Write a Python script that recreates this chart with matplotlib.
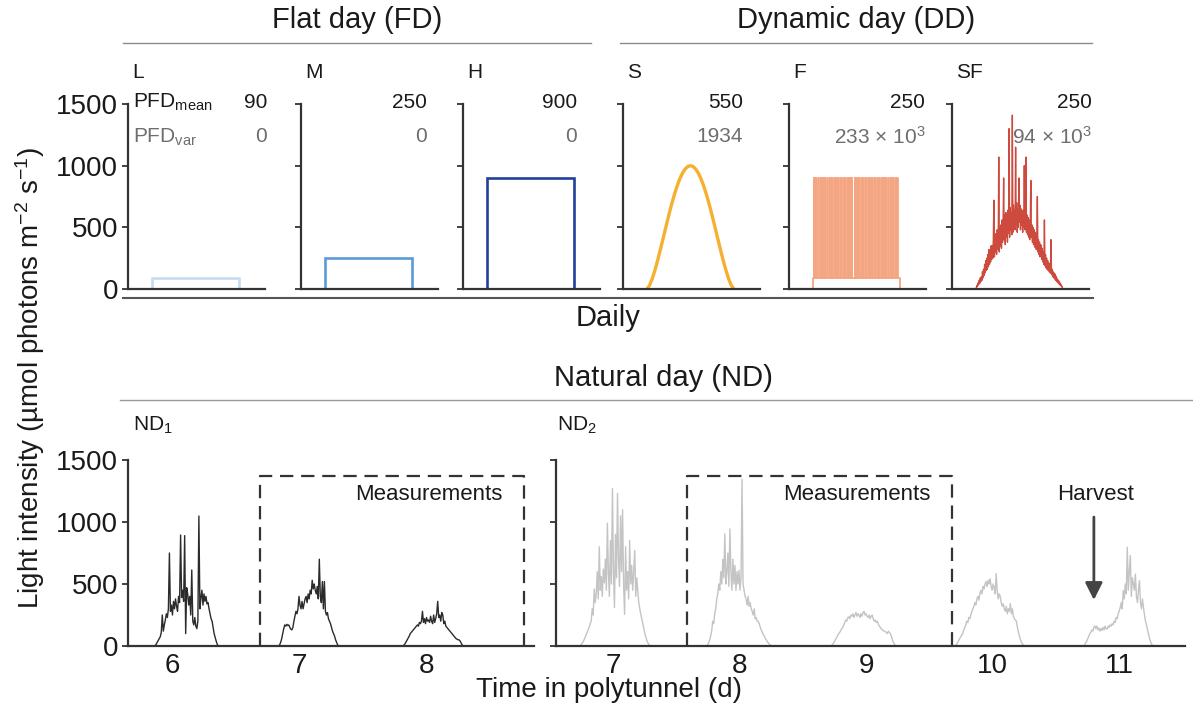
import numpy as np
import matplotlib
matplotlib.use("Agg")
import matplotlib.pyplot as plt

plt.rcParams['font.family'] = ['Liberation Sans', 'DejaVu Sans']
plt.rcParams['mathtext.fontset'] = 'custom'
plt.rcParams['mathtext.rm'] = 'Liberation Sans'
plt.rcParams['mathtext.it'] = 'Liberation Sans:italic'
plt.rcParams['mathtext.bf'] = 'Liberation Sans:bold'

# ---------------- daily treatments (hour of day) ----------------
treatments = ['L', 'M', 'H', 'S', 'F', 'SF']
pfd_mean = ['90', '250', '900', '550', '250', '250']
pfd_var = ['0', '0', '0', '1934', r'233 × 10$^{3}$', r'94 × 10$^{3}$']
light_on, light_off = 4, 20
flat_levels = [90, 250, 900]

# sinusoidal day, sampled every half hour
s_hours = np.arange(4, 20.01, 0.5)
s_values = [0, 31, 86, 156, 237, 324, 414, 505, 595, 680, 758, 828, 888, 936, 971, 993,
            1000, 993, 971, 936, 888, 828, 758, 680, 595, 505, 414, 324, 237, 156, 86, 31, 0]

# fluctuating day: low background with short high-light flashes
f_low, f_high = 90, 900
f_flash_starts = [4.15, 4.55, 4.95, 5.4, 5.8, 6.2, 6.65, 7.05, 7.45, 7.9, 8.3, 8.7, 9.15,
                  9.55, 9.95, 10.4, 10.8, 11.2, 11.65, 12.05, 12.45, 12.9, 13.3, 13.7,
                  14.15, 14.55, 14.95, 15.4, 15.8, 16.2, 16.65, 17.05, 17.45, 17.9, 18.3,
                  18.7, 19.15, 19.55]
f_flash_len = 0.08

# sinusoidal + fluctuating day, every 6 min
sf_hours = np.linspace(4, 20, 161)
sf_values = [0, 15, 30, 20, 50, 35, 70, 45, 90, 60,
             100, 70, 140, 90, 160, 110, 200, 130, 230, 150,
             250, 160, 280, 180, 320, 200, 300, 220, 350, 240,
             350, 250, 400, 720, 260, 420, 300, 450, 280, 480,
             450, 320, 1070, 300, 500, 350, 520, 330, 560, 380,
             540, 900, 400, 600, 360, 620, 420, 580, 380, 640,
             450, 1300, 420, 660, 480, 620, 440, 1410, 460, 680,
             500, 640, 480, 1150, 520, 700, 460, 650, 500, 900,
             540, 680, 480, 650, 520, 620, 460, 640, 500, 1000,
             480, 620, 1070, 460, 600, 440, 580, 420, 560, 400,
             550, 880, 420, 520, 380, 500, 360, 480, 340, 460,
             450, 320, 420, 750, 300, 400, 280, 380, 260, 360,
             350, 240, 330, 220, 300, 200, 560, 190, 280, 170,
             250, 160, 230, 150, 210, 140, 190, 130, 400, 120,
             160, 100, 140, 90, 130, 80, 120, 70, 100, 60,
             80, 50, 70, 40, 55, 30, 40, 20, 25, 10, 0]

# ---------------- natural days in the polytunnel ----------------
nd_step = 0.008  # days between logged values
nd1_starts = [5.86, 6.84, 7.82]
nd1_day6 = [0, 5, 15, 30, 45, 60, 75, 110, 250, 120, 170, 210, 260, 230, 300, 750,
            280, 330, 250, 360, 300, 380, 320, 280, 400, 350, 895, 390, 450, 360, 890,
            100, 470, 420, 330, 400, 250, 613, 200, 170, 230, 160, 140, 200, 1048, 300,
            390, 450, 330, 420, 360, 400, 340, 350, 300, 260, 220, 200, 150, 100, 70,
            40, 15, 0]
nd1_day7 = [0, 10, 30, 60, 100, 140, 170, 160, 175, 165, 170, 150, 135, 130, 150, 200,
            240, 280, 260, 300, 400, 330, 300, 360, 300, 340, 380, 400, 350, 420, 380,
            450, 420, 530, 460, 500, 450, 420, 480, 380, 700, 400, 350, 520, 300, 520,
            280, 250, 270, 220, 200, 180, 150, 120, 100, 80, 50, 30, 10, 0]
nd1_day8 = [0, 10, 20, 35, 50, 65, 80, 100, 110, 120, 130, 140, 150, 160, 170, 160,
            190, 180, 200, 280, 190, 220, 180, 230, 200, 210, 190, 240, 200, 180, 250,
            190, 220, 260, 360, 230, 250, 200, 270, 250, 180, 200, 160, 150, 140, 130,
            120, 110, 100, 90, 80, 70, 60, 55, 50, 50, 40, 25, 10, 0]

nd2_starts = [6.74, 7.74, 8.72, 9.70, 10.72]
nd2_day7 = [0, 10, 20, 35, 50, 70, 90, 110, 130, 150, 180, 200, 300, 250, 460, 350,
            420, 600, 380, 800, 450, 560, 400, 620, 510, 700, 450, 990, 600, 400, 850,
            500, 1270, 600, 310, 900, 550, 1230, 700, 480, 1050, 600, 1100, 500, 255,
            800, 450, 600, 380, 850, 500, 650, 450, 600, 770, 400, 550, 450, 350, 300,
            255, 220, 180, 140, 100, 70, 45, 25, 10, 5, 0]
nd2_day8 = [0, 10, 25, 50, 80, 120, 200, 180, 260, 300, 380, 420, 500, 450, 600, 500,
            700, 550, 904, 500, 600, 750, 480, 944, 600, 450, 700, 500, 650, 450, 600,
            500, 610, 450, 550, 1345, 500, 450, 400, 380, 330, 400, 320, 350, 300, 280,
            250, 300, 220, 230, 200, 200, 180, 150, 130, 110, 90, 80, 60, 50, 35, 25,
            15, 8, 3, 0]
nd2_day9 = [0, 5, 15, 25, 40, 55, 70, 85, 100, 110, 125, 140, 150, 170, 190, 210, 200,
            230, 235, 220, 250, 240, 260, 230, 250, 270, 240, 260, 250, 230, 260, 240,
            270, 280, 250, 260, 240, 230, 250, 220, 240, 250, 220, 200, 210, 190, 200,
            180, 160, 150, 140, 130, 125, 120, 115, 110, 100, 120, 110, 100, 80, 50, 30,
            15, 5, 0]
nd2_day10 = [0, 5, 15, 30, 45, 60, 75, 90, 100, 130, 150, 170, 200, 190, 230, 220, 250,
             280, 300, 320, 350, 330, 380, 400, 370, 430, 450, 420, 480, 460, 500, 520,
             480, 530, 500, 543, 480, 450, 500, 470, 420, 583, 450, 380, 420, 400, 350,
             320, 340, 300, 280, 320, 260, 300, 280, 342, 260, 300, 240, 220, 210, 200,
             150, 110, 80, 50, 30, 15, 8, 3, 0]
nd2_day11 = [0, 10, 25, 40, 60, 80, 100, 110, 130, 120, 150, 162, 140, 160, 130, 145,
             120, 140, 125, 150, 130, 160, 140, 135, 160, 150, 170, 160, 180, 170, 200,
             190, 230, 220, 260, 280, 310, 350, 300, 446, 380, 500, 420, 797, 450, 600,
             730, 400, 550, 500, 450, 580, 400, 350, 450, 527, 350, 300, 380, 310, 250,
             200, 170, 130, 95, 60, 35, 15, 5, 0]

W, H = 1193, 711
fig = plt.figure(figsize=(W / 100, H / 100), dpi=100)


def fx(x):
    return x / W


def fy(y):
    return 1 - y / H


def add_panel(left, right, top, bottom):
    return fig.add_axes([fx(left), fy(bottom), (right - left) / W, (bottom - top) / H])


def style(ax, ylabels):
    for side in ['top', 'right']:
        ax.spines[side].set_visible(False)
    for side in ['left', 'bottom']:
        ax.spines[side].set_linewidth(1.6)
        ax.spines[side].set_color('#333333')
    ax.set_ylim(0, 1500)
    ax.set_yticks([0, 500, 1000, 1500])
    ax.tick_params(axis='y', direction='out', length=4, width=1.3, color='#333333',
                   labelsize=20, pad=3, labelcolor='#1a1a1a')
    ax.tick_params(axis='x', length=0, labelsize=20, pad=5, labelcolor='#1a1a1a')
    if not ylabels:
        ax.set_yticklabels([])


ink = '#1a1a1a'
grey_txt = '#6e6e6e'

# ---------------- top row ----------------
top_lefts = [128, 301, 463, 623, 789, 952]
value_right = [267, 427, 577, 743, 925, 1092]
flat_colors = ['#c6dbef', '#5b9bd5', '#22409a']

for i, name in enumerate(treatments):
    ax = add_panel(top_lefts[i], top_lefts[i] + 137, 104, 289)
    style(ax, i == 0)
    ax.set_xlim(-0.4, 24.8)
    ax.set_xticks([])
    if i < 3:
        lv = flat_levels[i]
        ax.plot([light_on, light_on, light_off, light_off], [0, lv, lv, 0],
                color=flat_colors[i], lw=1.9, solid_joinstyle='miter')
    elif name == 'S':
        ax.plot(s_hours, s_values, color='#f5b030', lw=2.4, solid_capstyle='round')
    elif name == 'F':
        fx_, fy_ = [light_on, light_on], [0, f_low]
        for t in f_flash_starts:
            fx_ += [t, t, t + f_flash_len, t + f_flash_len]
            fy_ += [f_low, f_high, f_high, f_low]
        fx_ += [light_off, light_off]
        fy_ += [f_low, 0]
        ax.plot(fx_, fy_, color='#f4a582', lw=1.3)
    else:
        ax.plot(sf_hours, sf_values, color='#c01d0e', lw=1.0, alpha=0.8)

    fig.text(fx(top_lefts[i] + 4), fy(72), name, fontsize=15, color=ink, va='center')
    fig.text(fx(value_right[i]), fy(102), pfd_mean[i], fontsize=15, color=ink,
             ha='right', va='center')
    fig.text(fx(value_right[i]), fy(137), pfd_var[i], fontsize=15, color=grey_txt,
             ha='right', va='center')

fig.text(fx(133), fy(102), r'PFD$_{\mathrm{mean}}$', fontsize=15, color=ink, va='center')
fig.text(fx(133), fy(137), r'PFD$_{\mathrm{var}}$', fontsize=15, color=grey_txt, va='center')

# group headers
fig.text(fx(357), fy(20), 'Flat day (FD)', fontsize=21, color=ink, ha='center', va='center')
fig.text(fx(856), fy(20), 'Dynamic day (DD)', fontsize=21, color=ink, ha='center', va='center')
fig.add_artist(plt.Line2D([fx(123), fx(591)], [fy(43), fy(43)], color='#8c8c8c', lw=1))
fig.add_artist(plt.Line2D([fx(620), fx(1092)], [fy(43), fy(43)], color='#8c8c8c', lw=1))
fig.add_artist(plt.Line2D([fx(123), fx(1093)], [fy(298), fy(298)], color='#555555', lw=1.5))
fig.text(fx(608), fy(318), 'Daily', fontsize=21, color=ink, ha='center', va='center')

# ---------------- bottom row ----------------
fig.text(fx(663), fy(378), 'Natural day (ND)', fontsize=21, color=ink, ha='center', va='center')
fig.add_artist(plt.Line2D([fx(120), fx(1193)], [fy(400), fy(400)], color='#999999', lw=1))
fig.text(fx(133), fy(425), r'ND$_{1}$', fontsize=15, color=ink, va='center')
fig.text(fx(557), fy(425), r'ND$_{2}$', fontsize=15, color=ink, va='center')

ax1 = add_panel(128, 534, 460, 646)
style(ax1, True)
ax1.set_xlim(5.654, 8.85)
ax1.set_xticks([6, 7, 8])
ax1.plot([5.654, 8.85], [0, 0], color='#2b2b2b', lw=1.0)
for start, vals in zip(nd1_starts, [nd1_day6, nd1_day7, nd1_day8]):
    t = start + nd_step * np.arange(len(vals))
    ax1.plot(t, vals, color='#2b2b2b', lw=1.0)
ax1.plot([6.69, 6.69, 8.77, 8.77], [0, 1370, 1370, 0], color='#333333', lw=1.6,
         dashes=(6, 3.5))
ax1.text(8.02, 1218, 'Measurements', fontsize=16, color=ink, ha='center', va='center')

ax2 = add_panel(556, 1185, 460, 646)
style(ax2, False)
ax2.set_xlim(6.55, 11.52)
ax2.set_xticks([7, 8, 9, 10, 11])
ax2.plot([6.55, 11.52], [0, 0], color='#c4c4c4', lw=1.0)
for start, vals in zip(nd2_starts, [nd2_day7, nd2_day8, nd2_day9, nd2_day10, nd2_day11]):
    t = start + nd_step * np.arange(len(vals))
    ax2.plot(t, vals, color='#c4c4c4', lw=1.0)
ax2.plot([7.585, 7.585, 9.68, 9.68], [0, 1370, 1370, 0], color='#333333', lw=1.6,
         dashes=(6, 3.5))
ax2.text(8.93, 1218, 'Measurements', fontsize=16, color=ink, ha='center', va='center')
ax2.text(10.81, 1218, 'Harvest', fontsize=16, color=ink, ha='center', va='center')
ax2.annotate('', xy=(10.80, 371), xytext=(10.80, 1040),
             arrowprops=dict(arrowstyle='-|>', color='#444444', lw=2,
                             mutation_scale=26, shrinkA=0, shrinkB=0))

fig.text(fx(609), fy(690), 'Time in polytunnel (d)', fontsize=20, color=ink,
         ha='center', va='center')
fig.text(fx(30), fy(378), r'Light intensity (µmol photons m$^{\mathregular{-2}}$ s$^{\mathregular{-1}}$)',
         fontsize=20, color=ink, ha='center', va='center', rotation=90)

fig.savefig('out.png', dpi=100, facecolor='white')
